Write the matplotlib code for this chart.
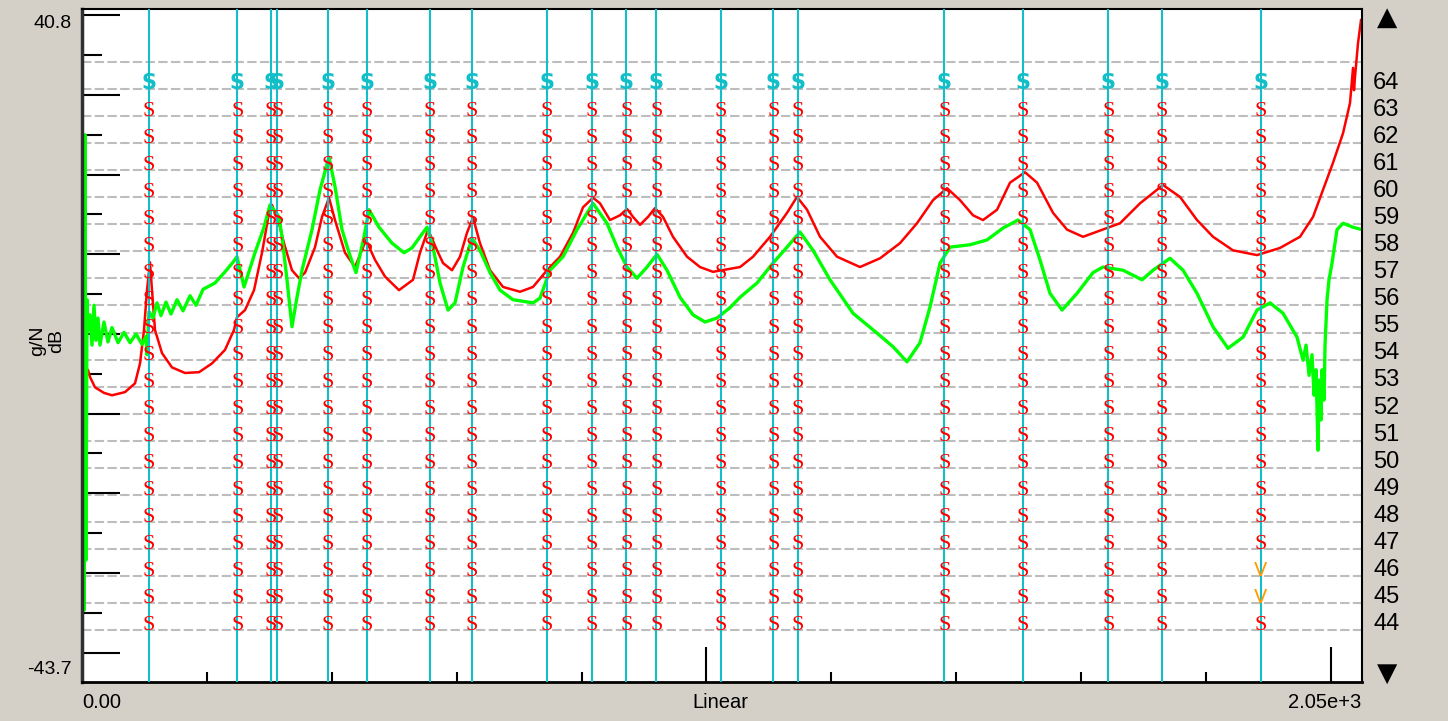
import numpy as np
import matplotlib.pyplot as plt
from matplotlib.ticker import MultipleLocator

plt.rcParams['font.family'] = ['Liberation Sans', 'DejaVu Sans']

# axis limits (as shown on the chart)
freq_min, freq_max = 0.0, 2050.0
db_min, db_max = -43.7, 40.8

# green FRF (freq Hz, dB)
green_freq = [1.6, 3.2, 4.8, 6.4, 8.0, 9.6, 12.8, 16.0, 19.2, 22.4,
              25.6, 28.8, 35.2, 41.6, 48.0, 57.7, 67.3, 76.9, 86.5, 96.1,
              102.5, 104.1, 107.3, 113.7, 120.1, 126.5, 134.5, 142.5, 152.2, 161.8,
              173.0, 182.6, 193.8, 213.0, 229.0, 241.8, 248.2, 259.5, 277.1, 291.5,
              301.1, 315.5, 320.3, 328.3, 336.3, 344.3, 352.4, 368.4, 381.2, 395.6,
              405.2, 416.4, 427.6, 438.8, 451.7, 459.7, 475.7, 496.5, 515.7, 528.5,
              541.3, 552.6, 562.2, 573.4, 586.2, 597.4, 610.2, 624.6, 637.4, 653.5,
              669.5, 690.3, 722.3, 733.5, 749.5, 770.4, 792.8, 818.4, 840.8, 856.9,
              872.9, 888.9, 904.9, 920.9, 936.9, 957.8, 978.6, 997.8, 1017.0, 1037.8,
              1053.9, 1081.1, 1106.7, 1129.1, 1149.9, 1170.8, 1198.0, 1234.8, 1273.3, 1298.9,
              1321.3, 1342.1, 1358.2, 1374.2, 1390.2, 1422.2, 1449.4, 1475.1, 1499.1, 1518.3,
              1534.3, 1550.3, 1569.6, 1593.6, 1619.2, 1635.2, 1667.3, 1697.7, 1715.3, 1742.5,
              1763.4, 1785.8, 1811.4, 1835.4, 1859.5, 1881.9, 1902.7, 1923.5, 1945.9, 1955.6,
              1960.4, 1965.2, 1970.0, 1973.2, 1976.4, 1979.6, 1981.2, 1984.4, 1986.0, 1989.2,
              1990.8, 1994.0, 1997.2, 2002.0, 2010.0, 2019.6, 2035.6, 2050.0]
green_db = [-8.3, -34.7, 25.0, -28.4, 4.3, 0.5, 2.4, -1.4, 3.6, -0.8,
            2.0, -1.4, 1.5, -1.0, 0.8, -1.1, 0.2, -1.1, 0.0, -1.3,
            -0.3, -2.6, 2.8, 2.0, 3.9, 2.3, 4.0, 2.5, 4.3, 2.9,
            4.8, 3.6, 5.6, 6.4, 7.8, 9.0, 9.7, 5.9, 10.2, 13.4,
            16.2, 14.7, 12.2, 6.8, 0.9, 4.6, 8.0, 13.1, 18.1, 22.2,
            18.5, 13.1, 10.2, 7.7, 12.2, 15.6, 13.4, 11.4, 10.2, 10.8,
            12.2, 13.4, 10.9, 6.4, 3.0, 3.9, 8.4, 12.0, 10.5, 7.7,
            5.5, 4.3, 3.9, 4.5, 8.0, 9.7, 13.1, 16.4, 13.9, 10.9,
            8.4, 7.0, 8.4, 10.0, 8.0, 4.6, 2.4, 1.5, 2.0, 3.3,
            4.6, 6.4, 8.9, 10.9, 12.8, 10.5, 6.8, 2.6, 0.1, -1.6,
            -3.5, -1.1, 3.4, 8.9, 10.9, 11.2, 11.8, 13.3, 14.3, 13.1,
            9.3, 5.1, 3.0, 5.1, 7.7, 8.4, 8.0, 6.8, 8.0, 9.5,
            8.0, 5.1, 0.9, -1.8, -0.4, 3.0, 3.9, 2.6, -0.4, -3.3,
            -1.4, -5.2, -2.6, -7.7, -4.5, -14.6, -5.8, -10.8, -4.5, -8.3,
            -1.4, 4.3, 6.8, 8.9, 13.1, 13.9, 13.4, 13.1]

# red FRF (freq Hz, dB)
red_freq = [1.6, 3.2, 4.8, 6.4, 9.6, 12.8, 20.8, 35.2, 48.0, 68.9,
            84.9, 92.9, 99.3, 104.1, 108.9, 112.1, 116.9, 128.1, 144.1, 165.0,
            187.4, 208.2, 229.0, 243.4, 248.2, 261.1, 275.5, 288.3, 299.5, 304.3,
            315.5, 323.5, 336.3, 347.5, 357.2, 373.2, 384.4, 395.6, 405.2, 421.2,
            437.2, 454.9, 469.3, 485.3, 507.7, 530.1, 541.3, 554.2, 568.6, 578.2,
            592.6, 605.4, 616.6, 626.2, 637.4, 653.5, 674.3, 701.5, 722.3, 744.7,
            765.6, 786.4, 802.4, 818.4, 829.6, 845.6, 861.7, 872.9, 882.5, 893.7,
            906.5, 917.7, 930.5, 946.5, 969.0, 989.8, 1010.6, 1053.9, 1074.7, 1101.9,
            1129.1, 1145.1, 1161.2, 1182.0, 1209.2, 1246.0, 1278.1, 1310.1, 1337.3, 1363.0,
            1385.4, 1406.2, 1427.0, 1443.0, 1465.5, 1486.3, 1510.3, 1529.5, 1555.2, 1577.6,
            1603.2, 1641.6, 1662.5, 1694.5, 1731.3, 1758.6, 1785.8, 1811.4, 1843.4, 1881.9,
            1918.7, 1950.7, 1971.6, 1987.6, 2003.6, 2019.6, 2030.8, 2035.6, 2037.2, 2038.8,
            2043.6, 2048.4]
red_db = [12.0, 19.7, 0.5, -5.8, -4.5, -5.4, -6.7, -7.4, -7.7, -7.3,
          -6.2, -3.7, 0.5, 5.5, 9.0, 5.5, 0.5, -2.4, -4.2, -4.9,
          -4.8, -3.7, -2.0, 0.5, 2.1, 3.0, 5.5, 10.2, 15.2, 16.2,
          13.9, 11.4, 8.0, 7.0, 7.7, 10.9, 14.7, 17.1, 14.3, 10.2,
          8.4, 11.8, 9.3, 7.2, 5.5, 6.8, 10.2, 13.1, 10.5, 8.9,
          8.0, 9.7, 12.7, 14.6, 11.4, 8.0, 5.9, 5.3, 5.9, 8.0,
          9.7, 12.7, 15.9, 17.1, 16.4, 14.3, 14.9, 15.7, 14.7, 13.7,
          14.7, 15.8, 14.7, 12.2, 9.7, 8.4, 7.8, 8.4, 9.7, 12.2,
          15.2, 17.2, 15.6, 12.2, 9.7, 8.4, 9.5, 11.4, 13.9, 16.8,
          18.3, 16.8, 14.9, 14.3, 15.6, 19.0, 20.3, 19.0, 15.2, 13.1,
          12.2, 13.3, 13.9, 16.4, 18.7, 17.2, 14.3, 12.2, 10.5, 9.9,
          10.8, 12.2, 14.7, 18.1, 21.5, 25.2, 29.0, 33.4, 30.6, 32.3,
          36.5, 39.4]

# stabilisation diagram
mode_freqs = [107, 249, 302, 313, 394, 456, 557, 624, 744, 817,
              872, 920, 1023, 1107, 1147, 1381, 1507, 1644, 1729, 1888]
model_orders = list(range(44, 65))     # 44 .. 64, shown on the right
top_order = 64                         # cyan bold S row
v_freq = 1888
v_orders = [45, 46]

bg = '#D4D0C8'
cyan = '#12BFC9'
grid_c = '#BDBDBD'

fig = plt.figure(figsize=(14.48, 7.21), dpi=100, facecolor=bg)
rect = [82 / 1448, 39 / 721, 1280 / 1448, 673 / 721]

# background axes with dashed order lines
axg = fig.add_axes(rect)
axg.set_facecolor('white')
axg.set_xlim(freq_min, freq_max)
axg.set_ylim(42.08, 66.96)
for r in range(44, 66):
    axg.axhline(r, color=grid_c, lw=1.5, ls=(0, (4.5, 1.6)))
axg.set_xticks([])
axg.set_yticks([])
for s in axg.spines.values():
    s.set_visible(False)

# data axes
ax = fig.add_axes(rect)
ax.patch.set_visible(False)
ax.plot(red_freq, red_db, color='#FF0000', lw=1.8)
ax.plot(green_freq, green_db, color='#00FF00', lw=2.4)
ax.set_xlim(freq_min, freq_max)
ax.set_ylim(db_min, db_max)

ax.xaxis.set_major_locator(MultipleLocator(1000))
ax.xaxis.set_minor_locator(MultipleLocator(200))
ax.yaxis.set_major_locator(MultipleLocator(10))
ax.yaxis.set_minor_locator(MultipleLocator(5))
ax.tick_params(axis='x', which='both', direction='in', width=1.5,
               labelbottom=False)
ax.tick_params(axis='x', which='major', length=25)
ax.tick_params(axis='x', which='minor', length=7)
ax.tick_params(axis='y', which='both', direction='in', width=1.5,
               labelleft=False)
ax.tick_params(axis='y', which='major', length=27.5)
ax.tick_params(axis='y', which='minor', length=14.5)
ax.spines['left'].set_linewidth(2.5)
ax.spines['left'].set_color('#303030')
ax.spines['bottom'].set_linewidth(2)
ax.spines['top'].set_linewidth(1.5)
ax.spines['right'].set_linewidth(1.5)

# stabilisation marks on top
axr = ax.twinx()
axr.set_ylim(42.08, 66.96)
for f in mode_freqs:
    axr.axvline(f, color=cyan, lw=1.5)
    axr.text(f, top_order, 'S', color=cyan, fontsize=15, fontweight='bold',
             family='DejaVu Sans', ha='center', va='baseline')
    for r in model_orders[:-1]:
        if f == v_freq and r in v_orders:
            axr.text(f, r, 'V', color='#FF9A00', fontsize=14,
                     family='DejaVu Sans', ha='center', va='baseline')
        else:
            axr.text(f, r, 'S', color='#FF0000', fontsize=16,
                     family='Liberation Serif', ha='center', va='baseline')

axr.set_yticks([r + 0.32 for r in model_orders])
axr.set_yticklabels([str(r) for r in model_orders])
axr.tick_params(axis='y', length=0, pad=8, labelsize=17)
for s in axr.spines.values():
    s.set_visible(False)

# axis annotations
ax.text(-0.008, 0.991, f'{db_max}', transform=ax.transAxes, ha='right', va='top',
        fontsize=14)
ax.text(-0.008, 0.006, f'{db_min}', transform=ax.transAxes, ha='right', va='bottom',
        fontsize=14)
ax.text(-0.027, 0.507, 'g/N\ndB', transform=ax.transAxes, rotation=90,
        ha='center', va='center', fontsize=14, linespacing=1.15)
fig.text(82 / 1448, 1 - 703 / 721, '0.00', ha='left', va='center', fontsize=14.5)
fig.text(720 / 1448, 1 - 703 / 721, 'Linear', ha='center', va='center', fontsize=14.5)
fig.text(1361 / 1448, 1 - 703 / 721, '2.05e+3', ha='right', va='center', fontsize=14.5)
fig.text(1387 / 1448, 1 - 18 / 721, '\u25B2', ha='center', va='center',
         fontsize=19, family='DejaVu Sans')
fig.text(1387 / 1448, 1 - 674 / 721, '\u25BC', ha='center', va='center',
         fontsize=19, family='DejaVu Sans')

fig.savefig('out.png', dpi=100, facecolor=bg)
